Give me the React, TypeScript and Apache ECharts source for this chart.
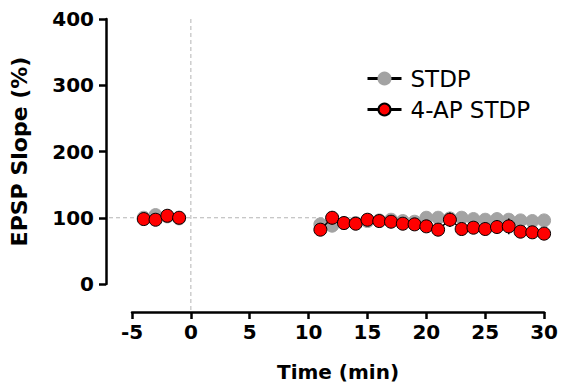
import React, { useEffect, useRef } from "react";
import * as echarts from "echarts";

// ---- data ----
const baselineTimes = [-4, -3, -2, -1];
const postTimes = [11, 12, 13, 14, 15, 16, 17, 18, 19, 20, 21, 22, 23, 24, 25, 26, 27, 28, 29, 30];

const stdpBaseline = [100, 104, 102, 99];
const stdpBaselineErr = [3, 4, 3, 3];
const stdpPost = [90, 88, 92, 92, 95, 96, 97, 95, 94, 100, 100, 99, 100, 98, 97, 98, 97, 96, 95, 96];
const stdpPostErr = [5, 6, 5, 5, 5, 6, 6, 5, 5, 6, 6, 6, 5, 5, 5, 5, 5, 5, 5, 5];

const apBaseline = [98, 97, 103, 100];
const apBaselineErr = [3, 3, 3, 3];
const apPost = [82, 100, 92, 91, 97, 95, 94, 91, 90, 87, 82, 97, 83, 85, 83, 86, 87, 79, 78, 76];
const apPostErr = [5, 10, 6, 6, 8, 8, 7, 7, 6, 6, 5, 11, 7, 6, 6, 7, 12, 7, 6, 6];

const xTicks = { min: -5, max: 30, interval: 5 };
const yTicks = { min: 0, max: 400, interval: 100 };
const baselineLevel = 100;
const stimTime = 0;

const seriesNames = ["STDP", "4-AP STDP"];

const FONT = "'DejaVu Sans', 'Liberation Sans', Arial, sans-serif";

function linePoints(t1: number[], v1: number[], t2: number[], v2: number[]) {
  return [
    ...t1.map((t, i) => [t, v1[i]]),
    [stimTime, "-"],
    ...t2.map((t, i) => [t, v2[i]]),
  ];
}

function errPoints(t1: number[], v1: number[], e1: number[], t2: number[], v2: number[], e2: number[]) {
  return [
    ...t1.map((t, i) => [t, v1[i] - e1[i], v1[i] + e1[i]]),
    ...t2.map((t, i) => [t, v2[i] - e2[i], v2[i] + e2[i]]),
  ];
}

function errSeries(name: string, data: any[], color: string, z: number) {
  return {
    type: "custom",
    name,
    z,
    data,
    encode: { x: 0, y: [1, 2] },
    renderItem: (params: any, api: any) => {
      const x = api.value(0);
      const p1 = api.coord([x, api.value(1)]);
      const p2 = api.coord([x, api.value(2)]);
      return {
        type: "line",
        shape: { x1: p1[0], y1: p1[1], x2: p2[0], y2: p2[1] },
        style: { stroke: color, lineWidth: 1.5 },
      };
    },
  };
}

export default function App() {
  const ref = useRef<HTMLDivElement>(null);

  useEffect(() => {
    if (!ref.current) return;
    const chart = echarts.init(ref.current, undefined, { renderer: "svg" });
    const gridLeft = 131;
    const yOffset = 26;
    const xOffset = 28;

    const tickLabel = { color: "#000", fontFamily: FONT, fontWeight: "bold", fontSize: 20 };

    chart.setOption({
      animation: false,
      backgroundColor: "#fff",
      grid: { left: gridLeft, right: 15, top: 19, bottom: 105, containLabel: false },
      legend: {
        data: seriesNames,
        orient: "vertical",
        left: 361,
        top: 62,
        itemWidth: 34,
        itemHeight: 15,
        itemGap: 8,
        textStyle: { fontFamily: FONT, fontSize: 23, color: "#000", padding: [0, 0, 0, 4] },
        lineStyle: { width: 3, color: "#000" },
      },
      xAxis: {
        type: "value",
        min: xTicks.min,
        max: xTicks.max,
        interval: xTicks.interval,
        offset: xOffset,
        splitLine: { show: false },
        axisLine: { show: true, onZero: false, lineStyle: { color: "#000", width: 2.5 } },
        axisTick: { show: true, length: 7, lineStyle: { color: "#000", width: 2.5 } },
        axisLabel: { ...tickLabel, margin: 10 },
        name: "Time (min)",
        nameLocation: "middle",
        nameGap: 50,
        nameTextStyle: { color: "#000", fontFamily: FONT, fontWeight: "bold", fontSize: 20 },
      },
      yAxis: {
        type: "value",
        min: yTicks.min,
        max: yTicks.max,
        interval: yTicks.interval,
        offset: yOffset,
        splitLine: { show: false },
        axisLine: { show: true, onZero: false, lineStyle: { color: "#000", width: 2.5 } },
        axisTick: { show: true, length: 7, lineStyle: { color: "#000", width: 2.5 } },
        axisLabel: { ...tickLabel, margin: 12 },
        name: "EPSP Slope (%)",
        nameLocation: "middle",
        nameGap: 76,
        nameTextStyle: { color: "#000", fontFamily: FONT, fontWeight: "bold", fontSize: 22 },
      },
      series: [
        errSeries(
          "STDP err",
          errPoints(baselineTimes, stdpBaseline, stdpBaselineErr, postTimes, stdpPost, stdpPostErr),
          "#a0a0a0",
          1
        ),
        {
          type: "line",
          name: seriesNames[0],
          z: 2,
          data: linePoints(baselineTimes, stdpBaseline, postTimes, stdpPost),
          connectNulls: false,
          symbol: "circle",
          symbolSize: 13,
          itemStyle: { color: "#a3a3a3", borderColor: "#a3a3a3", borderWidth: 1 },
          lineStyle: { color: "#000", width: 1.5 },
        },
        errSeries(
          "4-AP STDP err",
          errPoints(baselineTimes, apBaseline, apBaselineErr, postTimes, apPost, apPostErr),
          "#000",
          3
        ),
        {
          type: "line",
          name: seriesNames[1],
          z: 4,
          data: linePoints(baselineTimes, apBaseline, postTimes, apPost),
          connectNulls: false,
          symbol: "circle",
          symbolSize: 13,
          itemStyle: { color: "#ff0000", borderColor: "#000", borderWidth: 1 },
          lineStyle: { color: "#000", width: 1.5 },
        },
      ],
    });

    // reference lines through the axes' scales
    const pTop = chart.convertToPixel({ gridIndex: 0 }, [stimTime, yTicks.max]) as number[];
    const pZero = chart.convertToPixel({ gridIndex: 0 }, [stimTime, yTicks.min]) as number[];
    const pBaseL = chart.convertToPixel({ gridIndex: 0 }, [xTicks.min, baselineLevel]) as number[];
    const pBaseR = chart.convertToPixel({ gridIndex: 0 }, [xTicks.max, baselineLevel]) as number[];
    const dash = { stroke: "#b4b4b4", lineWidth: 1, lineDash: [4, 3] };
    chart.setOption({
      graphic: [
        {
          type: "line",
          z: 0,
          silent: true,
          shape: { x1: pTop[0], y1: pTop[1], x2: pZero[0], y2: pZero[1] + xOffset },
          style: dash,
        },
        {
          type: "line",
          z: 0,
          silent: true,
          shape: { x1: pBaseL[0] - yOffset + 3, y1: pBaseL[1], x2: pBaseR[0], y2: pBaseR[1] },
          style: dash,
        },
      ],
    });

    return () => chart.dispose();
  }, []);

  return (
    <div
      ref={ref}
      style={{ position: "absolute", left: 0, top: 0, width: 561, height: 389, background: "#fff" }}
    />
  );
}
